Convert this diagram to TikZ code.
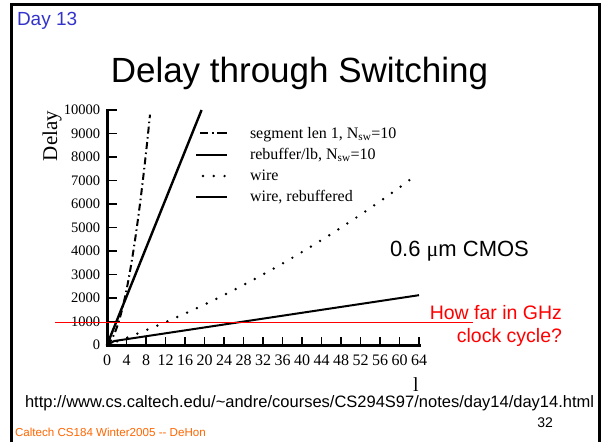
\documentclass[tikz,border=0pt]{standalone}
\usepackage{fontspec}
\setmainfont{Liberation Sans}
\newfontfamily\serifplot{Liberation Serif}
\definecolor{dayblue}{RGB}{51,51,204}
\definecolor{footorange}{RGB}{255,102,0}
\definecolor{notered}{RGB}{255,0,0}
\newcommand\fsz[1]{\fontsize{#1}{#1}\selectfont}
\tikzset{
  txt/.style={inner sep=0pt, outer sep=0pt},
  ticklab/.style={txt, font=\serifplot\fsz{14.5}},
  xticklab/.style={txt, font=\serifplot\fsz{16}},
  legtext/.style={txt, anchor=base west, font=\serifplot\fsz{16}},
  axisline/.style={line width=3pt, line cap=rect},
  tickline/.style={line width=1.2pt},
  curve/.style={line width=2pt, line cap=butt},
  dashdotcurve/.style={curve, dash pattern=on 7pt off 3.5pt on 1.5pt off 3.5pt},
  legdashdot/.style={curve, dash pattern=on 8pt off 3.5pt on 2pt off 3.5pt on 10pt},
  dotcurve/.style={line width=2.7pt, line cap=round, dash pattern=on 0pt off 10.8pt},
}
\begin{document}
\begin{tikzpicture}[x=1pt, y=-1pt]
\useasboundingbox (0,0) rectangle (605,442);
\fill[white] (0,0) rectangle (605,442);

% slide frame
\draw[line width=3pt, line join=miter] (11,442) -- (11,4) -- (599,4) -- (599,442);

% headings and footers
\node[txt, anchor=base west, text=dayblue, font=\fsz{19}] (day) at (17,25) {Day 13};
\node[txt, anchor=base, font=\fsz{35}] (title) at (299.5,82) {Delay through Switching};
\node[txt, anchor=base west, font=\fsz{22}] (tech) at (390,256) {0.6 {\serifplot μ}m CMOS};
\node[txt, anchor=base east, text=notered, font=\fsz{19.5}] (q1) at (562,319) {How far in GHz};
\node[txt, anchor=base east, text=notered, font=\fsz{19.5}] (q2) at (562,342) {clock cycle?};
\node[txt, anchor=base west, font=\fsz{16.5}] (url) at (25,407) {http://www.cs.caltech.edu/\string~andre/courses/CS294S97/notes/day14/day14.html};
\node[txt, anchor=base east, font=\fsz{14}] (page) at (553,427) {32};
\node[txt, anchor=base west, text=footorange, font=\fsz{11.6}] (foot) at (15,436) {Caltech CS184 Winter2005 -{}- DeHon};

% axis titles
\node[txt, rotate=90, font=\serifplot\fsz{21}] (ylab) at (52,136) {Delay};
\node[txt, anchor=base, font=\serifplot\fsz{20}] (xlab) at (416,391) {l};

% plot area: l on x, delay (in thousands) on y
\begin{scope}[shift={(107,345)}, x=4.875pt, y=23.5pt]
  \coordinate (o) at (0,0);
  \coordinate (ytop) at (0,10);
  \coordinate (xend) at (64,0);
  \draw[axisline] (ytop) -- (o) -- (xend);
  \foreach \i in {1,...,16} {
    \draw[tickline] (4*\i,0) -- ++(0pt,8pt);
  }
  \foreach \i in {0,...,16} {
    \pgfmathtruncatemacro\lv{4*\i}
    \node[xticklab] (xt\i) at (4*\i,0) [yshift=-15pt] {\lv};
  }
  \foreach \j in {1,...,10} {
    \draw[tickline] (0,\j) -- ++(10pt,0pt);
  }
  \foreach \j in {0,...,10} {
    \pgfmathtruncatemacro\dv{1000*\j}
    \node[ticklab, anchor=east] (yt\j) at (0,\j) [xshift=-7pt] {\dv};
  }

  % segment len 1
  \draw[dashdotcurve] plot[domain=0:8.82, samples=30] (\x, {0.15*\x+0.109*\x*\x});
  % rebuffer/lb
  \draw[curve, line width=2.4pt] (o) -- (19.4,10);
  % wire
  \draw[dotcurve] plot[domain=0:63, samples=60] (\x, {0.0733*\x+0.000634*\x*\x});
  % wire, rebuffered
  \draw[curve] (o) -- (1.5,0.17) -- (64,2.12);
\end{scope}

% legend
\coordinate (l1a) at (200,133); \coordinate (l1b) at (227,133);
\coordinate (l2a) at (196,155); \coordinate (l2b) at (227,155);
\coordinate (l3a) at (203,176); \coordinate (l3b) at (226,176);
\coordinate (l4a) at (196,197); \coordinate (l4b) at (227,197);
\draw[legdashdot] (l1a) -- (l1b);
\draw[curve] (l2a) -- (l2b);
\draw[dotcurve] (l3a) -- (l3b);
\draw[curve] (l4a) -- (l4b);
\node[legtext] (lg1) at (250,138) {segment len 1, N\textsubscript{sw}=10};
\node[legtext] (lg2) at (250,159) {rebuffer/lb, N\textsubscript{sw}=10};
\node[legtext] (lg3) at (250,180) {wire};
\node[legtext] (lg4) at (250,201) {wire, rebuffered};

% one GHz clock cycle
\coordinate (r1) at (55,322.5);
\coordinate (r2) at (473,322.5);
\draw[draw=notered, line width=1pt] (r1) -- (r2);
\end{tikzpicture}
\end{document}
